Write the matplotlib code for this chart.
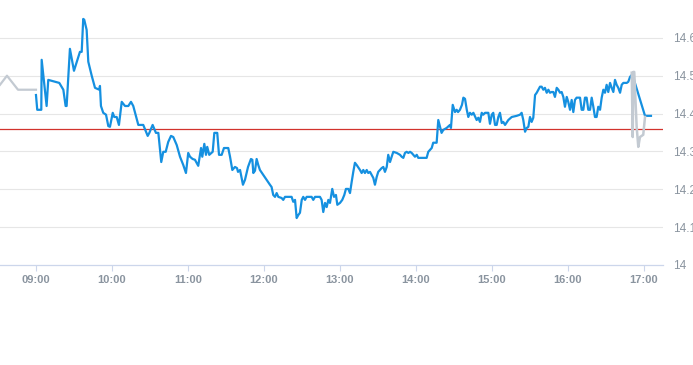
import matplotlib
matplotlib.use("Agg")
import matplotlib.pyplot as plt

# ---- data (time in minutes since midnight, price) ----
pre_time = [511.6, 517.1, 525.8, 540.0]
pre_price = [14.476, 14.500, 14.463, 14.463]

main_time = [
    540.0, 541.0, 544.2, 544.5, 548.4, 549.7, 558.4, 561.6, 563.4, 564.2,
    566.8, 570.0, 574.7, 576.1, 577.3, 578.1, 580.0, 581.3, 584.0, 586.6,
    590.0, 590.5, 591.3, 593.1, 595.3, 597.1, 598.4, 600.6, 601.8, 603.7,
    605.5, 607.7, 610.3, 612.9, 615.0, 616.8, 620.8, 624.7, 628.2, 629.5,
    632.1, 634.7, 636.6, 637.9, 638.9, 640.5, 642.4, 644.4, 646.6, 648.4,
    651.1, 653.7, 656.3, 658.4, 660.2, 661.6, 663.7, 665.5, 668.1, 670.3,
    671.3, 672.9, 674.2, 675.2, 676.8, 679.5, 680.8, 683.1, 684.5, 686.6,
    688.4, 691.8, 693.2, 695.0, 697.1, 698.7, 699.5, 701.1, 703.4, 705.0,
    707.4, 709.7, 710.8, 711.6, 712.9, 714.2, 715.5, 716.8, 719.4, 722.1,
    724.7, 726.0, 727.3, 728.7, 730.0, 731.3, 733.9, 735.2, 736.6, 741.8,
    743.1, 744.5, 745.8, 747.1, 748.4, 749.8, 751.0, 752.4, 753.7, 757.6,
    758.9, 760.3, 764.2, 765.5, 766.8, 768.2, 769.5, 770.8, 772.1, 773.9,
    775.3, 776.8, 777.9, 780.0, 781.8, 783.4, 784.7, 786.6, 787.9, 789.2,
    790.5, 791.8, 793.2, 795.8, 797.1, 798.4, 799.7, 801.1, 802.3, 803.7,
    805.0, 806.3, 807.6, 809.0, 810.2, 812.9, 814.2, 815.5, 816.9, 818.1,
    819.5, 820.8, 822.1, 824.8, 827.4, 828.7, 830.0, 831.3, 832.6, 834.0,
    835.3, 836.6, 837.9, 839.2, 840.6, 841.8, 848.4, 849.7, 852.4, 853.6,
    856.3, 857.6, 860.2, 861.6, 864.2, 866.8, 867.6, 869.0, 870.8, 872.1,
    873.2, 874.7, 876.3, 877.4, 878.7, 880.1, 881.3, 882.6, 884.0, 885.3,
    887.9, 889.2, 890.5, 891.9, 893.1, 894.5, 897.1, 898.4, 899.8, 901.0,
    902.4, 903.7, 905.0, 906.3, 907.7, 908.9, 910.3, 912.9, 915.6, 919.5,
    922.1, 923.4, 924.7, 926.1, 927.4, 928.7, 930.0, 931.3, 932.6, 934.0,
    935.3, 937.9, 939.2, 940.5, 941.8, 943.2, 944.5, 945.8, 947.1, 948.4,
    949.7, 951.1, 952.4, 953.7, 955.0, 956.3, 957.6, 959.0, 960.2, 961.6,
    962.9, 964.2, 965.5, 966.8, 969.5, 970.8, 972.1, 973.4, 974.7, 976.0,
    977.4, 978.7, 980.0, 981.3, 982.6, 983.9, 985.3, 986.6, 987.9, 989.2,
    990.5, 991.8, 993.2, 994.5, 995.8, 997.1, 998.4, 999.7, 1001.1, 1002.4,
    1003.7, 1006.4, 1007.6, 1009.0, 1010.3, 1012.1, 1020.8, 1025.5,
]
main_price = [
    14.449, 14.410, 14.410, 14.542, 14.420, 14.489, 14.481, 14.463, 14.420, 14.420,
    14.571, 14.513, 14.563, 14.563, 14.650, 14.648, 14.621, 14.537, 14.500, 14.468,
    14.463, 14.473, 14.420, 14.402, 14.397, 14.367, 14.365, 14.402, 14.391, 14.391,
    14.370, 14.431, 14.420, 14.420, 14.431, 14.420, 14.370, 14.370, 14.341, 14.349,
    14.370, 14.349, 14.349, 14.304, 14.272, 14.299, 14.299, 14.325, 14.341, 14.338,
    14.317, 14.286, 14.264, 14.243, 14.296, 14.286, 14.280, 14.278, 14.262, 14.309,
    14.286, 14.320, 14.291, 14.312, 14.291, 14.299, 14.349, 14.349, 14.291, 14.291,
    14.309, 14.309, 14.286, 14.251, 14.259, 14.256, 14.246, 14.251, 14.212, 14.225,
    14.259, 14.280, 14.278, 14.243, 14.249, 14.280, 14.264, 14.251, 14.238, 14.225,
    14.212, 14.206, 14.185, 14.180, 14.190, 14.180, 14.177, 14.172, 14.180, 14.180,
    14.167, 14.172, 14.124, 14.132, 14.138, 14.172, 14.180, 14.172, 14.180, 14.180,
    14.172, 14.180, 14.180, 14.172, 14.140, 14.164, 14.153, 14.172, 14.164, 14.201,
    14.180, 14.185, 14.159, 14.164, 14.172, 14.185, 14.201, 14.201, 14.190, 14.219,
    14.246, 14.270, 14.264, 14.251, 14.243, 14.251, 14.243, 14.251, 14.243, 14.246,
    14.238, 14.230, 14.212, 14.233, 14.246, 14.256, 14.259, 14.246, 14.259, 14.291,
    14.272, 14.286, 14.299, 14.296, 14.291, 14.286, 14.283, 14.296, 14.299, 14.296,
    14.299, 14.296, 14.291, 14.286, 14.291, 14.283, 14.283, 14.299, 14.309, 14.323,
    14.323, 14.383, 14.349, 14.357, 14.362, 14.370, 14.362, 14.423, 14.404, 14.410,
    14.404, 14.410, 14.423, 14.442, 14.439, 14.410, 14.391, 14.402, 14.397, 14.402,
    14.383, 14.389, 14.378, 14.402, 14.397, 14.402, 14.402, 14.373, 14.397, 14.402,
    14.370, 14.370, 14.391, 14.402, 14.375, 14.378, 14.370, 14.383, 14.391, 14.394,
    14.397, 14.402, 14.383, 14.352, 14.362, 14.365, 14.391, 14.378, 14.389, 14.449,
    14.455, 14.471, 14.471, 14.463, 14.468, 14.455, 14.463, 14.455, 14.457, 14.457,
    14.444, 14.468, 14.463, 14.455, 14.457, 14.444, 14.418, 14.444, 14.431, 14.410,
    14.436, 14.404, 14.436, 14.442, 14.442, 14.410, 14.410, 14.442, 14.442, 14.410,
    14.410, 14.442, 14.418, 14.391, 14.391, 14.418, 14.410, 14.442, 14.463, 14.455,
    14.476, 14.457, 14.481, 14.468, 14.457, 14.489, 14.476, 14.468, 14.455, 14.476,
    14.481, 14.481, 14.484, 14.497, 14.502, 14.489, 14.394, 14.394,
]

post_time = [1010.3, 1011.1, 1011.6, 1012.3, 1014.2, 1015.5, 1016.8, 1019.4, 1020.8]
post_price = [14.508, 14.338, 14.510, 14.510, 14.365, 14.312, 14.338, 14.344, 14.391]

prev_close = 14.36

x_ticks = [540, 600, 660, 720, 780, 840, 900, 960, 1020]
x_labels = ["09:00", "10:00", "11:00", "12:00", "13:00", "14:00", "15:00", "16:00", "17:00"]
y_ticks = [14.0, 14.1, 14.2, 14.3, 14.4, 14.5, 14.6]
y_labels = ["14", "14.1", "14.2", "14.3", "14.4", "14.5", "14.6"]

# ---- figure ----
W, H = 693, 365
fig = plt.figure(figsize=(W / 100, H / 100), dpi=100)
ax = fig.add_axes([0, (H - 265) / H, 663 / W, 265 / H])

blue = "#1590e0"
gray = "#c3cad2"
label_col = "#8a949f"

ax.plot(pre_time, pre_price, color=gray, lw=1.6, solid_joinstyle="round", zorder=3)
ax.plot(main_time, main_price, color=blue, lw=1.6, solid_joinstyle="round", zorder=3)
ax.plot(post_time, post_price, color=gray, lw=1.8, solid_joinstyle="round", zorder=4)
ax.axhline(prev_close, color="#d2322d", lw=0.9, zorder=2)

ax.set_xlim(511.6, 1035.0)
ax.set_ylim(14.0, 14.7)

for yv in y_ticks[1:]:
    ax.axhline(yv, color="#e6e6e6", lw=0.8, zorder=1)

for s in ["left", "right", "top"]:
    ax.spines[s].set_visible(False)
ax.spines["bottom"].set_color("#ccd6eb")
ax.spines["bottom"].set_linewidth(0.9)

ax.set_xticks(x_ticks)
ax.set_xticklabels(x_labels, fontfamily="Liberation Sans", fontweight="bold",
                   fontsize=8, color=label_col)
ax.tick_params(axis="x", length=4, width=0.8, color="#ccd6eb", pad=3)

ax.yaxis.tick_right()
ax.set_yticks(y_ticks)
ax.set_yticklabels(y_labels, fontfamily="Liberation Sans", fontsize=8.5, color=label_col)
ax.tick_params(axis="y", length=0, pad=7)
for lab in ax.get_yticklabels():
    lab.set_clip_on(False)

fig.savefig("out.png", dpi=100)
